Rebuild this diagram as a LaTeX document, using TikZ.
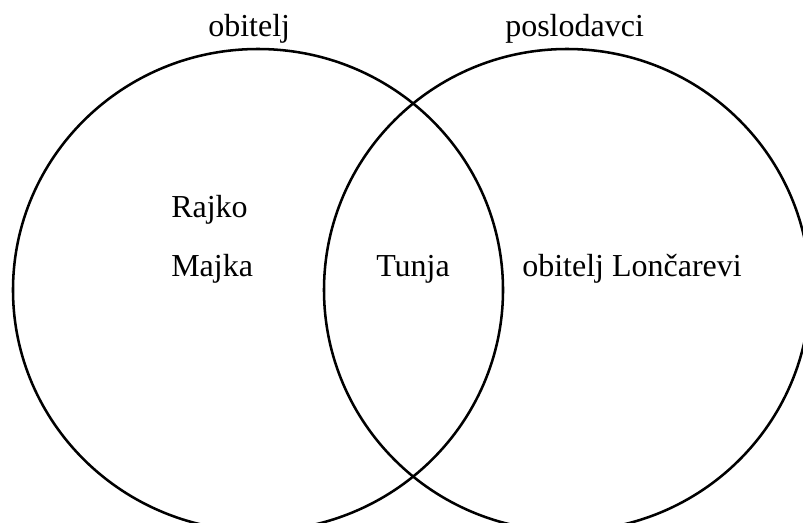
\documentclass[tikz,border=0pt]{standalone}
\usepackage{fontspec}
\setmainfont{Liberation Serif}
\begin{document}
\begin{tikzpicture}[x=0.75pt,y=-0.75pt,
  setline/.style={line width=1.9pt},
  lbl/.style={anchor=base west,inner sep=0pt,font=\fontsize{24}{28}\selectfont}]
\useasboundingbox (0,0) rectangle (803,522);
\begin{scope}
\clip (0,0) rectangle (803,522);
\draw[setline] (258,290) ellipse [x radius=245, y radius=241];
\draw[setline] (567,290) ellipse [x radius=243, y radius=241];
\end{scope}
\node[lbl] (hl) at (208,36) {obitelj};
\node[lbl] (hr) at (505,36) {poslodavci};
\node[lbl] (rajko) at (171,217) {Rajko};
\node[lbl] (majka) at (171,276) {Majka};
\node[lbl] (tunja) at (376,276) {Tunja};
\node[lbl] (lonc) at (522,276) {obitelj Lončarevi};
\end{tikzpicture}
\end{document}
